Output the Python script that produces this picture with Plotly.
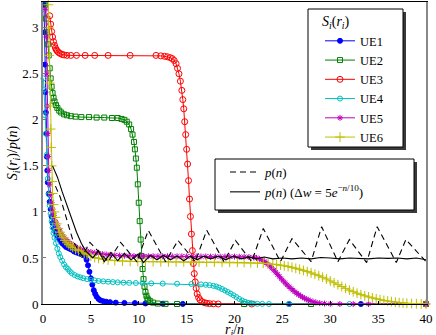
import plotly.graph_objects as go

# ---- data ------------------------------------------------------------------
# UE1 (blue, filled circles)
x1 = [0.1, 0.15, 0.2, 0.25, 0.3, 0.35, 0.4, 0.45, 0.5, 0.6, 0.7, 0.8, 0.9, 1.0,
      1.15, 1.3, 1.45, 1.6, 1.8, 2.0, 2.2, 2.4, 2.6, 2.8, 3.0, 3.25, 3.5, 3.75,
      4.0, 4.2, 4.4, 4.55, 4.7, 4.85, 5.0, 5.15, 5.3, 5.45, 5.6, 5.8, 6.0, 6.3,
      6.6, 7.0, 7.6, 8.5, 9.6, 10.7, 12.5, 14.6, 25.7, 33.2, 40.0]
y1 = [3.25, 2.95, 2.6, 2.3, 2.08, 1.85, 1.6, 1.45, 1.32, 1.2, 1.11, 1.03, 0.95, 0.88,
      0.82, 0.78, 0.75, 0.72, 0.69, 0.66, 0.64, 0.62, 0.61, 0.60, 0.59, 0.57, 0.56, 0.55,
      0.54, 0.53, 0.52, 0.48, 0.42, 0.35, 0.28, 0.21, 0.15, 0.11, 0.08, 0.055, 0.04, 0.03,
      0.025, 0.02, 0.015, 0.012, 0.01, 0.006, 0.003, 0.001, 0.0, 0.0, 0.0]

# UE2 (green, open squares)
x2 = [0.2, 0.3, 0.4, 0.5, 0.6, 0.7, 0.8, 0.9, 1.0, 1.1, 1.2, 1.35, 1.5, 1.7, 1.9,
      2.2, 2.5, 2.9, 3.4, 4.0, 4.8, 5.6, 6.4, 7.2, 7.8, 8.2, 8.5, 8.75, 9.0, 9.2,
      9.35, 9.5, 9.6, 9.7, 9.8, 9.9, 10.0, 10.1, 10.2, 10.3, 10.4, 10.5, 10.6, 10.7,
      10.8, 10.9, 11.0, 11.2, 11.5, 12.0, 12.8, 14.0, 21.0, 28.0, 40.0]
y2 = [3.25, 3.1, 2.95, 2.82, 2.7, 2.56, 2.45, 2.36, 2.29, 2.24, 2.2, 2.16, 2.13, 2.1, 2.08,
      2.06, 2.05, 2.04, 2.035, 2.03, 2.03, 2.025, 2.025, 2.02, 2.02, 2.01, 2.0, 1.98, 1.95, 1.9,
      1.84, 1.76, 1.68, 1.58, 1.48, 1.3, 1.1, 0.9, 0.7, 0.52, 0.38, 0.27, 0.19, 0.13,
      0.09, 0.06, 0.045, 0.03, 0.015, 0.005, 0.002, 0.0, 0.0, 0.0, 0.0]

# UE3 (red, open circles)
x3 = [0.7, 0.8, 0.9, 1.0, 1.1, 1.2, 1.3, 1.4, 1.5, 1.65, 1.8, 2.0, 2.2, 2.5, 2.9,
      3.5, 4.4, 5.4, 6.8, 9.1, 11.8, 12.3, 12.7, 13.0, 13.3, 13.5, 13.7, 13.9, 14.05,
      14.2, 14.35, 14.5, 14.6, 14.7, 14.8, 14.9, 15.0, 15.1, 15.2, 15.3, 15.4, 15.5,
      15.6, 15.7, 15.8, 15.9, 16.0, 16.1, 16.25, 16.4, 16.6, 16.85, 17.1, 17.4, 17.8,
      18.3, 21.8, 40.0]
y3 = [3.13, 3.04, 2.96, 2.9, 2.85, 2.81, 2.78, 2.76, 2.745, 2.73, 2.72, 2.71, 2.705, 2.7, 2.7,
      2.7, 2.7, 2.7, 2.7, 2.7, 2.7, 2.695, 2.69, 2.685, 2.675, 2.665, 2.645, 2.61, 2.56,
      2.5, 2.42, 2.32, 2.22, 2.12, 1.98, 1.84, 1.68, 1.52, 1.34, 1.14, 0.95, 0.76,
      0.58, 0.44, 0.33, 0.24, 0.17, 0.11, 0.07, 0.045, 0.025, 0.015, 0.008, 0.004, 0.002,
      0.0, 0.0, 0.0]

# UE4 (cyan, open circles)
x4 = [0.05, 0.1, 0.2, 0.3, 0.4, 0.5, 0.6, 0.7, 0.8, 0.9, 1.0, 1.1, 1.2, 1.35, 1.5,
      1.65, 1.8, 2.0, 2.2, 2.4, 2.6, 2.8, 3.0, 3.3, 3.6, 3.9, 4.2, 4.6, 5.0, 5.4, 5.8,
      6.3, 6.8, 7.3, 7.8, 8.4, 9.0, 9.7, 10.4, 11.3, 12.5, 14.0, 15.5, 16.5, 17.0, 17.4,
      17.8, 18.1, 18.4, 18.7, 19.0, 19.3, 19.6, 19.9, 20.2, 20.5, 20.8, 21.1, 21.4,
      21.7, 22.0, 22.4, 22.9, 23.6, 25.7, 32.0, 40.0]
y4 = [2.45, 2.33, 2.05, 1.85, 1.62, 1.36, 1.19, 1.07, 0.98, 0.9, 0.83, 0.77, 0.72, 0.66, 0.6,
      0.55, 0.51, 0.47, 0.43, 0.4, 0.38, 0.355, 0.335, 0.315, 0.3, 0.29, 0.28, 0.27, 0.262,
      0.256, 0.25, 0.246, 0.242, 0.238, 0.235, 0.232, 0.23, 0.228, 0.226, 0.224, 0.222,
      0.22, 0.217, 0.213, 0.209, 0.204, 0.197, 0.19, 0.178, 0.163, 0.147, 0.13, 0.113,
      0.095, 0.075, 0.055, 0.038, 0.024, 0.014, 0.008, 0.004, 0.002, 0.001, 0.0, 0.0,
      0.0, 0.0]

# UE5 (magenta, stars)
x5 = [0.3, 0.35, 0.4, 0.45, 0.5, 0.55, 0.6, 0.7, 0.8, 0.9,
      1.0, 1.1, 1.2, 1.35, 1.5, 1.65, 1.8, 2.0, 2.2, 2.4,
      2.6, 2.8, 3.0, 3.3, 3.6, 3.9, 4.2, 4.6, 5.0, 5.4,
      5.8, 6.2, 6.6, 7.0, 7.5, 8.0, 8.5, 9.0, 9.5, 10.0,
      10.5, 11.0, 11.5, 12.0, 12.5, 13.0, 13.5, 14.0, 14.5, 15.0,
      15.5, 16.0, 16.5, 17.0, 17.5, 18.0, 18.5, 19.0, 19.5, 20.0,
      20.5, 21.0, 21.5, 22.0, 22.3, 22.6, 22.9, 23.1, 23.3, 23.5,
      23.7, 23.9, 24.1, 24.3, 24.5, 24.7, 24.9, 25.1, 25.3, 25.5,
      25.7, 25.9, 26.1, 26.3, 26.5, 26.7, 26.9, 27.1, 27.3, 27.5,
      27.7, 27.9, 28.2, 28.5, 28.9, 29.4, 30.0, 31.0, 32.4, 34.0,
      40.0]
y5 = [3.2, 2.9, 2.5, 2.15, 1.85, 1.6, 1.45, 1.3, 1.19, 1.1,
      1.03, 0.98, 0.94, 0.89, 0.85, 0.81, 0.78, 0.75, 0.72, 0.7,
      0.68, 0.66, 0.65, 0.63, 0.61, 0.6, 0.59, 0.575, 0.565, 0.555,
      0.548, 0.542, 0.537, 0.533, 0.529, 0.526, 0.524, 0.522, 0.521, 0.52,
      0.52, 0.519, 0.519, 0.518, 0.518, 0.518, 0.517, 0.517, 0.517, 0.517,
      0.516, 0.516, 0.516, 0.516, 0.515, 0.515, 0.515, 0.515, 0.514, 0.514,
      0.513, 0.512, 0.51, 0.506, 0.5, 0.49, 0.475, 0.462, 0.447, 0.43,
      0.41, 0.39, 0.368, 0.345, 0.321, 0.297, 0.273, 0.25, 0.228, 0.207,
      0.187, 0.168, 0.15, 0.133, 0.117, 0.102, 0.088, 0.075, 0.063, 0.052,
      0.043, 0.035, 0.025, 0.017, 0.01, 0.005, 0.002, 0.0, 0.0, 0.0,
      0.0]

# UE6 (olive, plus)
x6 = [0.55, 0.6, 0.65, 0.7, 0.75, 0.8, 0.85, 0.9, 0.95, 1.0,
      1.1, 1.2, 1.3, 1.45, 1.6, 1.75, 1.9, 2.1, 2.3, 2.5,
      2.7, 2.9, 3.1, 3.4, 3.7, 4.0, 4.3, 4.6, 5.0, 5.4,
      5.8, 6.3, 6.8, 7.5, 8.3, 9.1, 9.9, 10.7, 11.5, 12.3,
      13.1, 13.9, 14.7, 15.5, 16.3, 17.1, 17.9, 18.7, 19.5, 20.3,
      21.0, 21.7, 22.4, 23.0, 23.5, 24.0, 24.4, 24.8, 25.2, 25.6,
      26.0, 26.4, 26.8, 27.2, 27.6, 28.0, 28.4, 28.8, 29.2, 29.6,
      30.0, 30.4, 30.8, 31.2, 31.6, 32.0, 32.4, 32.8, 33.2, 33.6,
      34.0, 34.4, 34.8, 35.2, 35.6, 36.0, 36.4, 36.8, 37.2, 37.6,
      38.0, 38.5, 39.0, 39.5, 40.0]
y6 = [3.25, 3.0, 2.7, 2.4, 2.15, 1.9, 1.7, 1.5, 1.33, 1.2,
      1.08, 1.0, 0.94, 0.87, 0.82, 0.78, 0.75, 0.72, 0.69, 0.665,
      0.645, 0.63, 0.615, 0.595, 0.58, 0.565, 0.55, 0.535, 0.52, 0.505,
      0.495, 0.485, 0.478, 0.471, 0.466, 0.463, 0.461, 0.46, 0.459, 0.458,
      0.458, 0.457, 0.457, 0.456, 0.456, 0.455, 0.455, 0.454, 0.453, 0.452,
      0.45, 0.448, 0.445, 0.442, 0.438, 0.433, 0.428, 0.422, 0.415, 0.407,
      0.398, 0.388, 0.377, 0.365, 0.352, 0.338, 0.323, 0.307, 0.29, 0.272,
      0.25, 0.23, 0.21, 0.19, 0.17, 0.15, 0.133, 0.117, 0.102, 0.089,
      0.077, 0.066, 0.056, 0.047, 0.039, 0.032, 0.026, 0.02, 0.015, 0.011,
      0.008, 0.005, 0.003, 0.001, 0.0]

# p(n), dashed
xp = [1.3, 1.8, 2.5, 3.1, 3.6, 4.1, 4.9, 6.8, 8.1, 9.8, 11.0, 12.8, 14.1, 15.9, 17.1,
      18.9, 20.1, 21.8, 23.0, 24.8, 26.0, 28.0, 29.1, 30.8, 32.0, 33.8, 34.9, 36.9,
      37.9, 40.0]
yp = [1.28, 1.16, 0.91, 0.70, 0.6, 0.52, 0.67, 0.46, 0.67, 0.46, 0.8, 0.46, 0.69, 0.46, 0.8,
      0.46, 0.69, 0.46, 0.82, 0.46, 0.71, 0.46, 0.84, 0.46, 0.7, 0.45, 0.84, 0.45,
      0.7, 0.46]

# p(n) with Δw = 5e^{-n/10}, solid
xw = [1.0, 1.5, 2.0, 2.5, 3.0, 3.5, 4.0, 4.5, 5.2, 5.8, 6.4, 7.1, 7.8, 8.5, 9.2, 9.9,
      10.5, 11.2, 11.9, 12.6, 13.3, 14.0, 14.7, 15.4, 16.1, 16.8, 17.5, 18.3, 19.1,
      19.9, 20.7, 21.5, 22.3, 23.1, 24.0, 25.0, 26.0, 27.0, 28.0, 29.0, 30.0, 31.0,
      32.0, 33.0, 34.0, 35.0, 36.0, 37.0, 38.0, 39.0, 40.0]
yw = [1.5, 1.38, 1.22, 1.07, 0.92, 0.78, 0.66, 0.57, 0.5, 0.58, 0.46, 0.56, 0.47, 0.55, 0.48, 0.54,
      0.45, 0.53, 0.48, 0.53, 0.48, 0.52, 0.47, 0.52, 0.48, 0.52, 0.49, 0.52, 0.48,
      0.52, 0.49, 0.51, 0.49, 0.51, 0.49, 0.5, 0.49, 0.5, 0.49, 0.505, 0.5, 0.49,
      0.5, 0.495, 0.49, 0.5, 0.495, 0.5, 0.49, 0.5, 0.48]

series = [
    ("UE1", x1, y1, "#0000FF", "circle", 5),
    ("UE2", x2, y2, "#008000", "square-open", 5),
    ("UE3", x3, y3, "#FF0000", "circle-open", 6),
    ("UE4", x4, y4, "#00BFBF", "circle-open", 5),
    ("UE5", x5, y5, "#BF00BF", "asterisk-open", 5),
    ("UE6", x6, y6, "#BFBF00", "cross-thin-open", 7),
]

# ---- figure -----------------------------------------------------------------
W, H = 436, 335
ML, MR, MT, MB = 43, 10, 2, 31
FONT = "Liberation Serif"


def px(x):
    return (x - ML) / (W - ML - MR)


def py(y):
    return (H - MB - y) / (H - MT - MB)


fig = go.Figure()
for name, xs, ys, col, sym, sz in series:
    fig.add_trace(go.Scatter(
        x=xs, y=ys, name=name, mode="lines+markers", cliponaxis=False,
        line=dict(color=col, width=1),
        marker=dict(symbol=sym, size=sz, color=col, line=dict(color=col, width=1)),
    ))

fig.add_trace(go.Scatter(
    x=xp, y=yp, mode="lines", legend="legend2",
    name="<i>p</i>(<i>n</i>)",
    line=dict(color="black", width=1.1, dash="6px,4px"),
))
fig.add_trace(go.Scatter(
    x=xw, y=yw, mode="lines", legend="legend2",
    name="<i>p</i>(<i>n</i>) (Δ<i>w</i> = 5<i>e</i><sup>−<i>n</i>/10</sup>)",
    line=dict(color="black", width=1.1),
))

# legend boxes with drop shadows
shapes = []
for (x0, y0, x1_, y1_) in [(308, 9, 403, 147), (215, 159, 414, 210)]:
    shapes.append(dict(type="rect", xref="paper", yref="paper", layer="above",
                       x0=px(x0 + 3), x1=px(x1_ + 3), y0=py(y0 + 3), y1=py(y1_ + 3),
                       fillcolor="#3a3a3a", line=dict(width=0)))
    shapes.append(dict(type="rect", xref="paper", yref="paper", layer="above",
                       x0=px(x0), x1=px(x1_), y0=py(y0), y1=py(y1_),
                       fillcolor="white", line=dict(color="black", width=1)))

fig.update_layout(
    width=W, height=H,
    margin=dict(l=ML, r=MR, t=MT, b=MB, autoexpand=False),
    paper_bgcolor="white", plot_bgcolor="white",
    font=dict(family=FONT, size=13, color="black"),
    shapes=shapes,
    legend=dict(
        x=px(320), y=py(8), xanchor="left", yanchor="top",
        bgcolor="rgba(0,0,0,0)", borderwidth=0,
        font=dict(family=FONT, size=12.5),
        title=dict(text="<i>S<sub>i</sub></i>(<i>r<sub>i</sub></i>)",
                   font=dict(family=FONT, size=14)),
    ),
    legend2=dict(
        x=px(225), y=py(157), xanchor="left", yanchor="top",
        bgcolor="rgba(0,0,0,0)", borderwidth=0,
        font=dict(family=FONT, size=13),
    ),
    # x-axis title as an annotation so it can sit lower than plotly allows
    annotations=[dict(
        text="<i>r<sub>i</sub></i>/<i>n</i>", showarrow=False,
        xref="paper", yref="paper", x=0.5, y=py(320),
        xanchor="center", yanchor="top", font=dict(family=FONT, size=14),
    )],
)

fig.update_xaxes(
    range=[0, 40], tickvals=[0, 5, 10, 15, 20, 25, 30, 35, 40],
    ticks="inside", ticklen=3, tickcolor="black", ticklabelstandoff=2,
    showline=True, linecolor="black", linewidth=1.2, mirror=True,
    showgrid=False, zeroline=False, automargin=False,
)
fig.update_yaxes(
    range=[0, 3.28], tickvals=[0, 0.5, 1, 1.5, 2, 2.5, 3],
    ticktext=["0", "0.5", "1", "1.5", "2", "2.5", "3"],
    ticks="inside", ticklen=3, tickcolor="#777",
    showline=True, linecolor="#888", linewidth=2, mirror=True,
    showgrid=False, zeroline=False, automargin=False,
    title=dict(text="<i>S<sub>i</sub></i>(<i>r<sub>i</sub></i>)/<i>p</i>(<i>n</i>)",
               standoff=0, font=dict(size=14)),
)

# the page's default 8px body margin would shift the figure; remove it
fig.write_html("out.html", config={"displayModeBar": False},
               post_script="document.body.style.margin = '0';")
